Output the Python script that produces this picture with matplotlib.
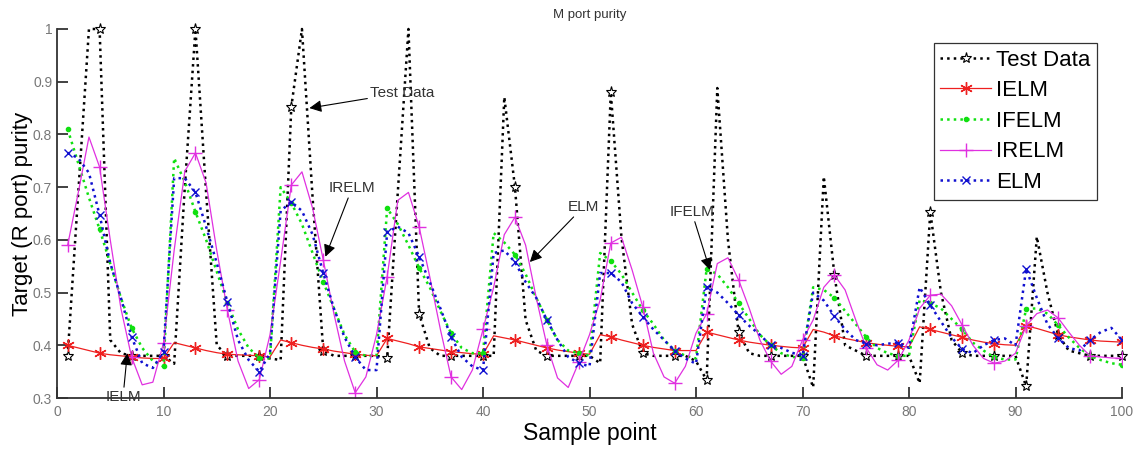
import numpy as np
import matplotlib
matplotlib.use("Agg")
import matplotlib.pyplot as plt

plt.rcParams['font.family'] = ['Liberation Sans', 'DejaVu Sans']

# sample points 1..100
x = np.arange(1, 101)

test_data = [
    0.38, 0.69, 1.0, 1.0, 0.41, 0.385, 0.38, 0.38, 0.38, 0.38,
    0.365, 0.70, 1.0, 0.69, 0.40, 0.38, 0.38, 0.38, 0.38, 0.375,
    0.372, 0.852, 1.0, 0.68, 0.39, 0.38, 0.38, 0.38, 0.38, 0.38,
    0.376, 0.69, 1.0, 0.46, 0.395, 0.38, 0.38, 0.38, 0.38, 0.38,
    0.38, 0.871, 0.70, 0.448, 0.39, 0.38, 0.38, 0.38, 0.38, 0.38,
    0.366, 0.88, 0.605, 0.44, 0.385, 0.38, 0.38, 0.38, 0.38, 0.37,
    0.334, 0.888, 0.60, 0.425, 0.385, 0.38, 0.38, 0.38, 0.38, 0.38,
    0.32, 0.72, 0.533, 0.40, 0.39, 0.38, 0.38, 0.38, 0.38, 0.38,
    0.328, 0.653, 0.50, 0.41, 0.385, 0.38, 0.38, 0.38, 0.38, 0.38,
    0.322, 0.606, 0.50, 0.42, 0.39, 0.385, 0.38, 0.38, 0.38, 0.38,
]

ielm = [
    0.40, 0.395, 0.39, 0.385, 0.382, 0.38, 0.378, 0.376, 0.375, 0.375,
    0.405, 0.40, 0.395, 0.39, 0.386, 0.383, 0.382, 0.381, 0.38, 0.378,
    0.41, 0.405, 0.40, 0.396, 0.393, 0.389, 0.386, 0.383, 0.381, 0.38,
    0.413, 0.408, 0.403, 0.397, 0.394, 0.391, 0.388, 0.386, 0.384, 0.383,
    0.418, 0.414, 0.41, 0.405, 0.40, 0.395, 0.391, 0.388, 0.385, 0.383,
    0.42, 0.416, 0.41, 0.405, 0.40, 0.396, 0.393, 0.39, 0.39, 0.39,
    0.425, 0.42, 0.415, 0.41, 0.406, 0.403, 0.40, 0.398, 0.396, 0.395,
    0.43, 0.425, 0.418, 0.413, 0.409, 0.405, 0.402, 0.40, 0.398, 0.397,
    0.435, 0.43, 0.425, 0.42, 0.415, 0.41, 0.406, 0.403, 0.401, 0.40,
    0.437, 0.432, 0.426, 0.42, 0.416, 0.413, 0.41, 0.408, 0.407, 0.406,
]

ifelm = [
    0.81, 0.745, 0.68, 0.62, 0.555, 0.49, 0.433, 0.395, 0.37, 0.36,
    0.755, 0.71, 0.653, 0.60, 0.54, 0.48, 0.43, 0.395, 0.376, 0.375,
    0.70, 0.67, 0.63, 0.575, 0.52, 0.47, 0.42, 0.387, 0.38, 0.38,
    0.66, 0.63, 0.59, 0.547, 0.51, 0.465, 0.423, 0.395, 0.385, 0.385,
    0.613, 0.595, 0.572, 0.535, 0.49, 0.448, 0.41, 0.39, 0.385, 0.38,
    0.575, 0.56, 0.535, 0.50, 0.467, 0.44, 0.41, 0.39, 0.38, 0.375,
    0.545, 0.535, 0.51, 0.48, 0.45, 0.42, 0.40, 0.385, 0.378, 0.376,
    0.51, 0.505, 0.49, 0.465, 0.44, 0.415, 0.395, 0.385, 0.38, 0.38,
    0.486, 0.48, 0.47, 0.45, 0.43, 0.405, 0.39, 0.377, 0.373, 0.373,
    0.469, 0.47, 0.46, 0.438, 0.415, 0.395, 0.38, 0.372, 0.366, 0.363,
]

irelm = [
    0.59, 0.69, 0.795, 0.738, 0.60, 0.47, 0.378, 0.325, 0.33, 0.404,
    0.58, 0.73, 0.765, 0.708, 0.58, 0.467, 0.37, 0.318, 0.335, 0.42,
    0.56, 0.704, 0.729, 0.66, 0.562, 0.46, 0.37, 0.31, 0.34, 0.42,
    0.53, 0.675, 0.69, 0.625, 0.53, 0.43, 0.34, 0.316, 0.353, 0.43,
    0.51, 0.61, 0.643, 0.59, 0.49, 0.40, 0.338, 0.32, 0.368, 0.42,
    0.486, 0.594, 0.605, 0.543, 0.473, 0.385, 0.34, 0.328, 0.36, 0.423,
    0.46, 0.555, 0.566, 0.524, 0.47, 0.41, 0.37, 0.345, 0.36, 0.41,
    0.448, 0.51, 0.533, 0.505, 0.448, 0.395, 0.363, 0.353, 0.372, 0.41,
    0.47, 0.495, 0.497, 0.475, 0.438, 0.40, 0.375, 0.366, 0.37, 0.385,
    0.437, 0.46, 0.467, 0.452, 0.425, 0.40, 0.38, 0.378, 0.376, 0.375,
]

elm = [
    0.765, 0.755, 0.727, 0.647, 0.556, 0.49, 0.416, 0.366, 0.357, 0.388,
    0.717, 0.717, 0.69, 0.625, 0.556, 0.482, 0.41, 0.372, 0.35, 0.385,
    0.655, 0.672, 0.655, 0.61, 0.537, 0.47, 0.415, 0.378, 0.353, 0.353,
    0.615, 0.625, 0.613, 0.568, 0.52, 0.47, 0.416, 0.378, 0.36, 0.353,
    0.575, 0.58, 0.558, 0.52, 0.49, 0.448, 0.41, 0.378, 0.366, 0.36,
    0.537, 0.537, 0.52, 0.48, 0.454, 0.43, 0.41, 0.39, 0.375, 0.365,
    0.51, 0.50, 0.48, 0.457, 0.437, 0.42, 0.40, 0.395, 0.386, 0.38,
    0.50, 0.485, 0.455, 0.43, 0.41, 0.403, 0.40, 0.403, 0.405, 0.395,
    0.51, 0.476, 0.445, 0.415, 0.393, 0.385, 0.40, 0.41, 0.413, 0.40,
    0.545, 0.49, 0.44, 0.414, 0.395, 0.39, 0.41, 0.425, 0.433, 0.41,
]

yticks = [0.3, 0.4, 0.5, 0.6, 0.7, 0.8, 0.9, 1.0]
yticklabels = ['0.3', '0.4', '0.5', '0.6', '0.7', '0.8', '0.9', '1']
xticks = [0, 10, 20, 30, 40, 50, 60, 70, 80, 90, 100]

fig = plt.figure(figsize=(11.36, 4.49), dpi=100)
ax = fig.add_axes([57 / 1136, 1 - 398 / 449, (1122 - 57) / 1136, (398 - 29) / 449])

ax.plot(x, test_data, ':', color='black', lw=1.8, marker='*', ms=8,
        mfc='white', mec='black', mew=0.8, markevery=3, label='Test Data',
        clip_on=False)
ax.plot(x, ielm, '-', color='#ee2020', lw=0.9, marker=(6, 2, 0), ms=9,
        mec='#ee2020', mew=1.0, markevery=3, label='IELM')
ax.plot(x, ifelm, ':', color='#10e010', lw=1.8, marker='.', ms=6,
        markevery=3, label='IFELM')
ax.plot(x, irelm, '-', color='#e030e0', lw=0.9, marker='+', ms=10,
        mew=1.0, markevery=3, label='IRELM')
ax.plot(x, elm, ':', color='#1010d0', lw=1.8, marker='x', ms=6,
        mew=1.0, markevery=3, label='ELM')

ax.set_xlim(0, 100)
ax.set_ylim(0.3, 1.0)
ax.set_xticks(xticks)
ax.set_yticks(yticks)
ax.set_yticklabels(yticklabels)
ax.tick_params(direction='in', length=8, width=1.3, colors='#333333',
               labelcolor='#777777', labelsize=10, top=False, right=False)
ax.tick_params(axis='x', pad=5)
for s in ['top', 'right']:
    ax.spines[s].set_visible(False)
for s in ['left', 'bottom']:
    ax.spines[s].set_linewidth(1.3)
    ax.spines[s].set_color('#333333')

ax.set_xlabel('Sample point', fontsize=16.5, labelpad=2)
ax.set_ylabel('Target (R port) purity', fontsize=16, labelpad=0)
ax.set_title('M port purity', fontsize=9.5, color='#333333', pad=8)

leg = ax.legend(loc='upper right', bbox_to_anchor=(0.9765, 0.962),
                borderaxespad=0, fontsize=16, fancybox=False,
                edgecolor='#333333', framealpha=1, handlelength=2.3,
                handletextpad=0.2, labelspacing=0.43, borderpad=0.3)
leg.get_frame().set_linewidth(0.9)
leg.set_zorder(5)

arrow = dict(arrowstyle='-|>', color='black', lw=0.8, mutation_scale=18,
             shrinkA=0, shrinkB=0)
ax.annotate('Test Data', xy=(23.7, 0.85), xytext=(29.4, 0.879),
            fontsize=11, color='#333333', va='center', ha='left',
            arrowprops=arrow)
ax.annotate('IRELM', xy=(25.2, 0.568), xytext=(27.7, 0.698),
            fontsize=11, color='#333333', va='center', ha='center',
            arrowprops=arrow)
ax.annotate('ELM', xy=(44.4, 0.558), xytext=(49.4, 0.662),
            fontsize=11, color='#333333', va='center', ha='center',
            arrowprops=arrow)
ax.annotate('IFELM', xy=(61.3, 0.543), xytext=(59.6, 0.653),
            fontsize=11, color='#333333', va='center', ha='center',
            arrowprops=arrow)
ax.annotate('IELM', xy=(6.6, 0.385), xytext=(6.2, 0.302),
            fontsize=11, color='#333333', va='center', ha='center',
            arrowprops=arrow, annotation_clip=False)

fig.savefig('out.png', dpi=100)
